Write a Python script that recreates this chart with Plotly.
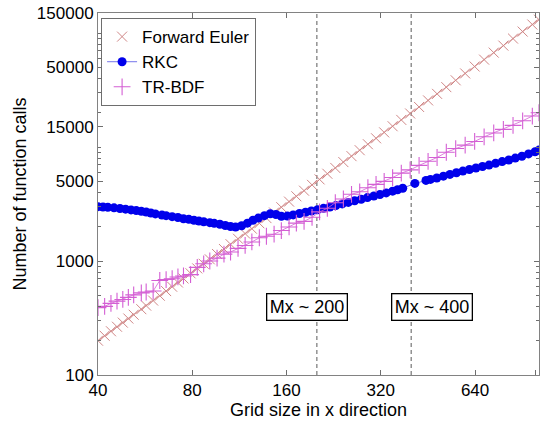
import plotly.graph_objects as go

# ---------------- data ----------------
grid_fe = [40, 42, 44, 46, 48, 50, 52, 55, 57, 60, 63, 66, 69, 72, 75, 79, 83, 87, 91, 96,
           101, 106, 112, 118, 124, 131, 138, 146, 154, 163, 172, 182, 193, 204, 216, 229,
           243, 258, 274, 291, 309, 328, 349, 372, 397, 424, 453, 484, 518, 555, 595, 638,
           684, 734, 788, 846, 908, 975, 1024]
fe_calls = [200, 221, 242, 265, 288, 313, 338, 378, 406, 450, 496, 545, 595, 648, 703, 780,
            861, 946, 1035, 1152, 1275, 1405, 1568, 1741, 1922, 2145, 2381, 2665, 2965, 3321,
            3698, 4141, 4656, 5202, 5832, 6555, 7381, 8321, 9385, 10585, 11935, 13448, 15225,
            17298, 19701, 22472, 25651, 29282, 33541, 38503, 44253, 50881, 58482, 67345,
            77618, 89465, 103058, 118828, 131072]

grid_rkc = [40, 41.5, 43, 45, 47, 49, 51, 53, 55, 57, 59, 61, 64, 66, 69, 72, 75, 78, 81, 84,
            87, 91, 94, 98, 102, 106, 110, 115, 120, 125, 130, 136, 142, 148, 154, 161, 168,
            176, 184, 192, 201, 210, 220, 230, 241, 252, 264, 277, 290, 304, 318, 333, 349,
            362, 376, 411, 446, 461, 483, 507, 532, 558, 585, 614, 644, 676, 709, 744, 781,
            820, 860, 903, 948, 995, 1024]
rkc_calls = [3000, 2980, 2960, 2930, 2890, 2850, 2810, 2770, 2730, 2690, 2640, 2590, 2530,
             2500, 2450, 2410, 2350, 2320, 2280, 2240, 2210, 2170, 2140, 2100, 2050, 2010,
             1990, 2040, 2150, 2280, 2380, 2500, 2600, 2560, 2470, 2480, 2540, 2610, 2680,
             2750, 2820, 2900, 2980, 3070, 3170, 3270, 3380, 3480, 3600, 3720, 3830, 3960,
             4100, 4220, 4350, 4800, 5100, 5200, 5350, 5550, 5750, 5950, 6150, 6350, 6550,
             6750, 6950, 7200, 7450, 7700, 8000, 8300, 8700, 9100, 9400]

grid_trbdf = [40, 42, 44, 46, 48, 50, 52, 55, 57, 60, 63, 66, 69, 72, 75, 79, 83, 87, 91, 96,
              101, 106, 112, 118, 124, 131, 138, 146, 154, 163, 172, 182, 193, 204, 216, 229,
              243, 258, 274, 291, 309, 328, 349, 372, 397, 424, 453, 484, 518, 555, 595, 638,
              684, 734, 788, 846, 908, 975, 1024]
trbdf_calls = [390, 400, 425, 445, 460, 480, 505, 525, 535, 545, 675, 688, 700, 725, 740, 760,
               880, 945, 1000, 1060, 1150, 1200, 1290, 1370, 1470, 1600, 1650, 1720, 1850,
               1990, 2150, 2230, 2420, 2700, 2900, 3250, 3500, 3850, 4050, 4400, 4700, 5000,
               5400, 5900, 6300, 6900, 7500, 8100, 9000, 9700, 10400, 11200, 12300, 13300,
               14300, 15500, 17000, 18700, 20000]

x_ticks = [40, 80, 160, 320, 640, 1000]
x_tick_text = ["40", "80", "160", "320", "640", ""]
y_ticks = [100, 1000, 5000, 15000, 50000, 150000]
y_tick_text = ["100", "1000", "5000", "15000", "50000", "150000"]
y_minor = [200, 300, 400, 500, 600, 700, 800, 900,
           2000, 3000, 4000, 6000, 7000, 8000, 9000, 10000,
           20000, 30000, 40000, 60000, 70000, 80000, 90000, 100000]
mx_lines = [200, 400]
mx_labels = ["Mx ~ 200", "Mx ~ 400"]
mx_label_pos = [0.475, 0.7585]

# ---------------- figure ----------------
FE_COL = "rgb(208,135,135)"
RKC_COL = "rgb(0,0,235)"
TR_COL = "rgb(212,95,212)"
FONT = "Liberation Sans, Arial, Helvetica, sans-serif"

fig = go.Figure()

for xv in mx_lines:
    fig.add_trace(go.Scatter(x=[xv, xv], y=[100, 150000], mode="lines",
                             line=dict(color="rgb(90,90,90)", width=1, dash="4px,3px"),
                             showlegend=False, hoverinfo="skip"))

fig.add_trace(go.Scatter(x=grid_fe, y=fe_calls, mode="lines",
                         line=dict(color=FE_COL, width=0.8), showlegend=False,
                         hoverinfo="skip"))
fig.add_trace(go.Scatter(x=grid_fe, y=fe_calls, mode="markers", name="Forward Euler",
                         marker=dict(symbol="x-thin-open", size=10, color=FE_COL,
                                     line=dict(color=FE_COL, width=1))))
fig.add_trace(go.Scatter(x=grid_rkc, y=rkc_calls, mode="lines+markers", name="RKC",
                         line=dict(color="rgb(80,80,230)", width=0.8),
                         marker=dict(symbol="circle", size=9, color=RKC_COL,
                                     line=dict(width=0))))
fig.add_trace(go.Scatter(x=grid_trbdf, y=trbdf_calls, mode="lines",
                         line=dict(color=TR_COL, width=0.8), showlegend=False,
                         hoverinfo="skip"))
fig.add_trace(go.Scatter(x=grid_trbdf, y=trbdf_calls, mode="markers", name="TR-BDF",
                         marker=dict(symbol="cross-thin-open", size=12, color=TR_COL,
                                     line=dict(color=TR_COL, width=1.1))))

for txt, px in zip(mx_labels, mx_label_pos):
    fig.add_annotation(x=px, y=0.188, xref="paper", yref="paper", text=txt,
                       showarrow=False, font=dict(size=18, color="black", family=FONT),
                       bgcolor="white", bordercolor="black", borderwidth=1.3,
                       borderpad=2.5, xanchor="center", yanchor="middle")

axis_common = dict(type="log", showgrid=False, zeroline=False, showline=True,
                   linecolor="rgb(130,130,130)", linewidth=1, mirror="ticks",
                   ticks="inside", ticklen=5, tickcolor="rgb(110,110,110)",
                   automargin=False, ticklabeloverflow="allow",
                   tickfont=dict(size=17, color="black", family=FONT))

fig.update_xaxes(**axis_common, range=[1.60206, 3.0103], tickmode="array",
                 tickvals=x_ticks, ticktext=x_tick_text,
                 title=dict(text="Grid size in x direction", standoff=0,
                            font=dict(size=18, color="black", family=FONT)))
fig.update_yaxes(**axis_common, range=[2, 5.1761], tickmode="array",
                 tickvals=y_ticks, ticktext=y_tick_text,
                 minor=dict(tickmode="array", tickvals=y_minor, ticks="inside",
                            ticklen=3, tickcolor="rgb(110,110,110)"),
                 title=dict(text="Number of function calls", standoff=5,
                            font=dict(size=18, color="black", family=FONT)))

fig.update_layout(
    width=541, height=421,
    margin=dict(l=98, r=2, t=13, b=46, autoexpand=False),
    paper_bgcolor="white", plot_bgcolor="white",
    font=dict(family=FONT, size=17, color="black"),
    legend=dict(x=0.007, y=0.986, xanchor="left", yanchor="top",
                bgcolor="white", bordercolor="rgb(110,110,110)", borderwidth=1,
                font=dict(size=17, color="black", family=FONT),
                tracegroupgap=0, itemwidth=30),
    showlegend=True,
)

# remove the default 8px page margin so the figure fills the window
fig.write_html("out.html", config={"displayModeBar": False},
               post_script="document.body.style.margin='0px';")
